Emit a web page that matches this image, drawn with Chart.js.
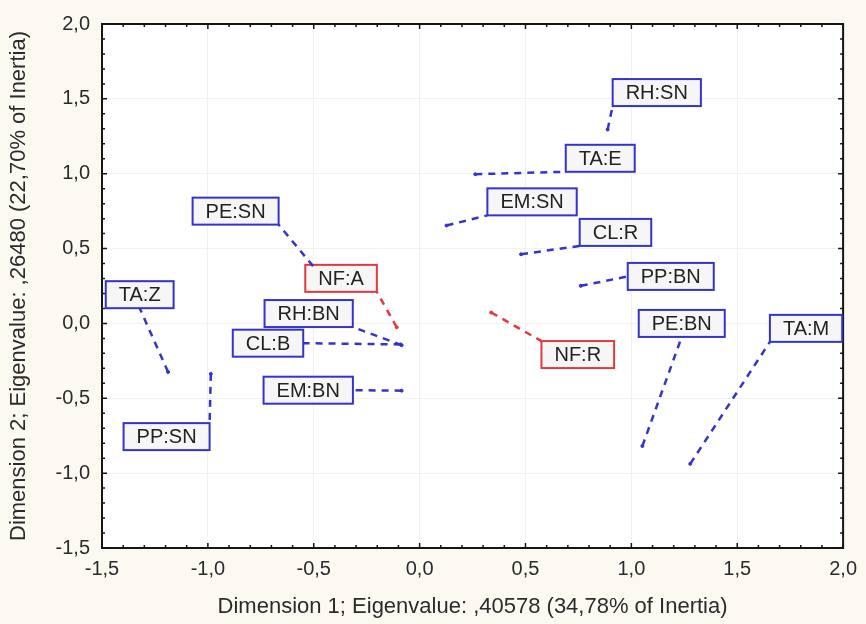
<!DOCTYPE html>
<html>
<head>
<meta charset="utf-8">
<script src="https://cdn.jsdelivr.net/npm/chart.js@4.4.1/dist/chart.umd.min.js"></script>
<style>
body { margin: 0; background: #fcf9f1; }
</style>
</head>
<body>
<canvas id="Graf" width="866" height="624"></canvas>
<script>
// categories and their coordinates on the two dimensions
var kategorier = ['RH:SN', 'TA:E', 'EM:SN', 'CL:R', 'PP:BN', 'PE:BN', 'TA:M', 'NF:R',
                  'NF:A', 'PE:SN', 'RH:BN', 'CL:B', 'EM:BN', 'TA:Z', 'PP:SN'];
var dim1 = [0.888, 0.263, 0.127, 0.479, 0.761, 1.052, 1.278, 0.338,
            -0.108, -0.503, -0.085, -0.09, -0.085, -1.188, -0.986];
var dim2 = [1.295, 0.997, 0.654, 0.462, 0.251, -0.819, -0.938, 0.073,
            -0.026, 0.383, -0.145, -0.14, -0.449, -0.324, -0.337];

// where the label boxes sit (data units)
var etiketX = [1.120, 0.853, 0.531, 0.925, 1.186, 1.238, 1.825, 0.747,
               -0.371, -0.869, -0.524, -0.716, -0.526, -1.322, -1.195];
var etiketY = [1.542, 1.103, 0.812, 0.608, 0.314, 0.0, -0.033, -0.208,
               0.301, 0.750, 0.066, -0.132, -0.446, 0.192, -0.756];

var roedeKategorier = ['NF:R', 'NF:A'];

var tickVaerdier = [-1.5, -1.0, -0.5, 0.0, 0.5, 1.0, 1.5, 2.0];
var xTitel = 'Dimension 1; Eigenvalue: ,40578 (34,78% of Inertia)';
var yTitel = 'Dimension 2; Eigenvalue: ,26480 (22,70% of Inertia)';

var blaa = 'rgb(52,52,205)';
var roed = 'rgb(222,58,64)';

function ErRoed(navn) {
    return roedeKategorier.indexOf(navn) >= 0;
}

function Komma(v) {
    return v.toFixed(1).replace('.', ',');
}

// point where a leader line meets its box: edge middle if the point is
// level with the box, otherwise the nearest corner
function Anker(px, py, l, t, w, h) {
    var x, y;
    if (px >= l && px <= l + w) {
        x = l + w / 2;
        y = (py > t + h) ? t + h : t;
    } else if (py >= t && py <= t + h) {
        y = t + h / 2;
        x = (px > l + w) ? l + w : l;
    } else {
        x = (px > l + w) ? l + w : l;
        y = (py > t + h) ? t + h : t;
    }
    return [x, y];
}

var etiketPlugin = {
    id: 'etiketter',
    beforeDraw: function (chart) {
        var ctx = chart.ctx;
        var a = chart.chartArea;
        ctx.save();
        ctx.fillStyle = '#fcf9f1';
        ctx.fillRect(0, 0, chart.width, chart.height);
        ctx.fillStyle = '#ffffff';
        ctx.fillRect(a.left, a.top, a.right - a.left, a.bottom - a.top);
        ctx.restore();
    },
    afterDatasetsDraw: function (chart) {
        var ctx = chart.ctx;
        var a = chart.chartArea;
        var xs = chart.scales.x;
        var ys = chart.scales.y;
        ctx.save();

        // frame with inward ticks on all four sides
        ctx.strokeStyle = '#151515';
        ctx.lineWidth = 2;
        ctx.strokeRect(a.left, a.top, a.right - a.left, a.bottom - a.top);
        ctx.lineWidth = 1.5;
        ctx.beginPath();
        for (var i = 0; i <= 35; i++) {
            var v = -1.5 + i * 0.1;
            var len = (i % 5 == 0) ? 5 : 3;
            var px = xs.getPixelForValue(v);
            var py = ys.getPixelForValue(v);
            ctx.moveTo(px, a.bottom); ctx.lineTo(px, a.bottom - len);
            ctx.moveTo(px, a.top); ctx.lineTo(px, a.top + len);
            ctx.moveTo(a.left, py); ctx.lineTo(a.left + len, py);
            ctx.moveTo(a.right, py); ctx.lineTo(a.right - len, py);
        }
        ctx.stroke();

        // dashed leader lines and label boxes
        ctx.font = '20px "Liberation Sans", Arial, sans-serif';
        ctx.textAlign = 'center';
        ctx.textBaseline = 'middle';
        for (var k = 0; k < kategorier.length; k++) {
            var farve = ErRoed(kategorier[k]) ? roed : blaa;
            var ptX = xs.getPixelForValue(dim1[k]);
            var ptY = ys.getPixelForValue(dim2[k]);
            var cx = xs.getPixelForValue(etiketX[k]);
            var cy = ys.getPixelForValue(etiketY[k]);
            var w = ctx.measureText(kategorier[k]).width + 26;
            var h = 27;
            var l = cx - w / 2;
            var t = cy - h / 2;
            var e = Anker(ptX, ptY, l, t, w, h);

            ctx.strokeStyle = farve;
            ctx.lineWidth = 2.5;
            ctx.setLineDash([7, 6]);
            ctx.beginPath();
            ctx.moveTo(ptX, ptY);
            ctx.lineTo(e[0], e[1]);
            ctx.stroke();
            ctx.setLineDash([]);

            ctx.fillStyle = '#f6f6f6';
            ctx.fillRect(l, t, w, h);
            ctx.lineWidth = 2;
            ctx.strokeRect(l, t, w, h);
            ctx.fillStyle = '#222222';
            ctx.fillText(kategorier[k], cx, cy + 1);
        }
        ctx.restore();
    }
};

function LavData(roede) {
    var punkter = [];
    for (var k = 0; k < kategorier.length; k++) {
        if (ErRoed(kategorier[k]) == roede) {
            punkter.push({ x: dim1[k], y: dim2[k] });
        }
    }
    return punkter;
}

var tickFont = { family: '"Liberation Sans", Arial, sans-serif', size: 20 };
var titelFont = { family: '"Liberation Sans", Arial, sans-serif', size: 22 };

var graf = new Chart('Graf', {
    type: 'scatter',
    data: {
        datasets: [{
            data: LavData(false),
            pointRadius: 1.5,
            pointHoverRadius: 1.5,
            backgroundColor: blaa,
            borderColor: blaa
        }, {
            data: LavData(true),
            pointRadius: 1.5,
            pointHoverRadius: 1.5,
            backgroundColor: roed,
            borderColor: roed
        }]
    },
    options: {
        responsive: false,
        animation: false,
        layout: { padding: { top: 18, right: 19, left: 0, bottom: 0 } },
        plugins: {
            legend: { display: false },
            tooltip: { enabled: false }
        },
        scales: {
            x: {
                type: 'linear',
                min: -1.5,
                max: 2.0,
                afterBuildTicks: function (scale) {
                    scale.ticks = tickVaerdier.map(function (v) { return { value: v }; });
                },
                afterFit: function (scale) { scale.height = 76; },
                ticks: {
                    callback: function (v) { return Komma(v); },
                    font: tickFont,
                    color: '#2b2b2b',
                    padding: 9,
                    maxRotation: 0
                },
                grid: { color: '#f1f1f1', drawTicks: false },
                border: { display: false },
                title: { display: true, text: xTitel, font: titelFont, color: '#2b2b2b', padding: { top: 0, bottom: 4 } }
            },
            y: {
                type: 'linear',
                min: -1.5,
                max: 2.0,
                afterBuildTicks: function (scale) {
                    scale.ticks = tickVaerdier.map(function (v) { return { value: v }; });
                },
                afterFit: function (scale) { scale.width = 102; },
                ticks: {
                    callback: function (v) { return Komma(v); },
                    font: tickFont,
                    color: '#2b2b2b',
                    padding: 12
                },
                grid: { color: '#f1f1f1', drawTicks: false },
                border: { display: false },
                title: { display: true, text: yTitel, font: titelFont, color: '#2b2b2b', padding: { top: 6, bottom: 0 } }
            }
        }
    },
    plugins: [etiketPlugin]
});
</script>
</body>
</html>
